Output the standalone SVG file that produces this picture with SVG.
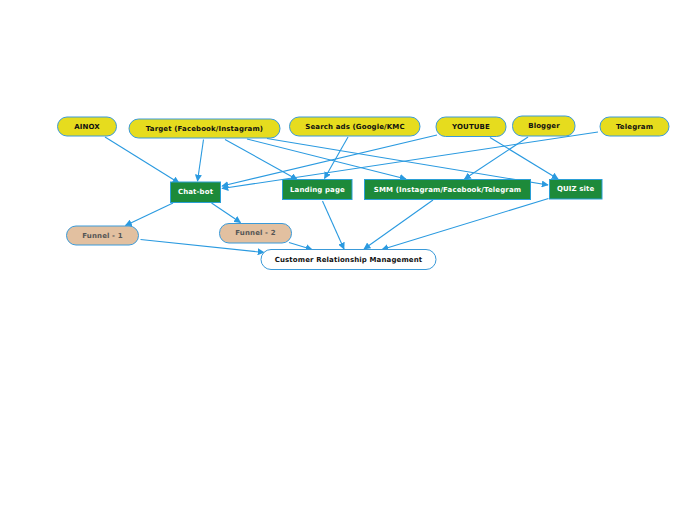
<svg xmlns="http://www.w3.org/2000/svg" width="697" height="520" viewBox="0 0 697 520">
<defs>
<marker id="ah" viewBox="0 0 10 10" refX="9" refY="5" markerWidth="7" markerHeight="7" markerUnits="userSpaceOnUse" orient="auto">
<path d="M0,0 L10,5 L0,10 z" fill="#2a9ae0"/>
</marker>
<style>
.y{fill:#e6dc1e;stroke:#3a9ad9;stroke-width:1}
.g{fill:#1d8a3a;stroke:#2a9fd6;stroke-width:1}
.f{fill:#e2c0a0;stroke:#3a9ad9;stroke-width:1}
.w{fill:#ffffff;stroke:#3a9ad9;stroke-width:1}
text{font-family:"DejaVu Sans",Verdana,sans-serif;font-weight:bold;font-size:7px;letter-spacing:0.12px;text-anchor:middle;dominant-baseline:central}
.ty{fill:#111}
.tg{fill:#ffffff}
.tf{fill:#555555}
.tw{fill:#111}
#connectors line{stroke:#2a9ae0;stroke-width:1.1;marker-end:url(#ah)}
</style>
</defs>
<rect width="697" height="520" fill="#ffffff"/>
<g id="connectors">
<line x1="105" y1="137" x2="179" y2="183"/>
<line x1="203.5" y1="139.5" x2="197.5" y2="181"/>
<line x1="225" y1="139.5" x2="297" y2="179.5"/>
<line x1="247" y1="139" x2="406" y2="179"/>
<line x1="267" y1="138.5" x2="548" y2="185"/>
<line x1="348" y1="137" x2="324.5" y2="178.5"/>
<line x1="437" y1="135" x2="222" y2="186"/>
<line x1="490" y1="137.5" x2="558" y2="179"/>
<line x1="528" y1="137" x2="464.5" y2="179"/>
<line x1="598" y1="132" x2="222" y2="188.5"/>
<line x1="173" y1="203" x2="125.5" y2="225.5"/>
<line x1="211.5" y1="203" x2="240.5" y2="222.5"/>
<line x1="140.5" y1="239.5" x2="264" y2="252.5"/>
<line x1="289" y1="242.5" x2="312" y2="249.5"/>
<line x1="322.5" y1="201" x2="344" y2="249"/>
<line x1="433" y1="200" x2="364" y2="249"/>
<line x1="548.5" y1="198.5" x2="382" y2="249.5"/>
</g>
<g id="n-ainox"><rect class="y" x="57.5" y="117" width="59" height="19" rx="9.5"/><text class="ty" x="87" y="126.8">AINOX</text></g>
<g id="n-target"><rect class="y" x="129" y="119" width="151" height="19" rx="9.5"/><text class="ty" x="204.5" y="128.8">Target (Facebook/Instagram)</text></g>
<g id="n-search"><rect class="y" x="289.5" y="117" width="130.5" height="19" rx="9.5"/><text class="ty" x="355" y="126.8">Search ads (Google/KMC</text></g>
<g id="n-youtube"><rect class="y" x="436" y="117" width="70" height="19.5" rx="9.5"/><text class="ty" x="471" y="127">YOUTUBE</text></g>
<g id="n-blogger"><rect class="y" x="512.5" y="116" width="62.5" height="20" rx="9.5"/><text class="ty" x="544" y="126">Blogger</text></g>
<g id="n-telegram"><rect class="y" x="600" y="117" width="69" height="19" rx="9.5"/><text class="ty" x="634.5" y="126.5">Telegram</text></g>
<g id="n-chatbot"><rect class="g" x="170.5" y="182" width="50" height="20.5"/><text class="tg" x="195.5" y="192.3">Chat-bot</text></g>
<g id="n-landing"><rect class="g" x="282.5" y="179.5" width="69.5" height="20"/><text class="tg" x="317.5" y="189.5">Landing page</text></g>
<g id="n-smm"><rect class="g" x="364.5" y="179.5" width="166" height="20"/><text class="tg" x="447.5" y="189.5">SMM (Instagram/Facebook/Telegram</text></g>
<g id="n-quiz"><rect class="g" x="549.5" y="179.5" width="52.5" height="19.5"/><text class="tg" x="575.7" y="189">QUIZ site</text></g>
<g id="n-funnel1"><rect class="f" x="66.5" y="226" width="72" height="19" rx="9.5"/><text class="tf" x="102.5" y="236">Funnel - 1</text></g>
<g id="n-funnel2"><rect class="f" x="219.5" y="223.5" width="72" height="19.5" rx="9.5"/><text class="tf" x="255.5" y="233.3">Funnel - 2</text></g>
<g id="n-crm"><rect class="w" x="261" y="249.5" width="175" height="20" rx="10"/><text class="tw" x="348.5" y="260">Customer Relationship Management</text></g>
</svg>
